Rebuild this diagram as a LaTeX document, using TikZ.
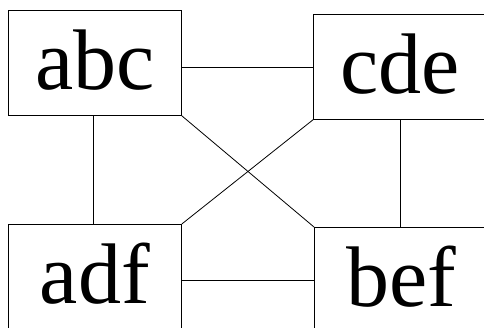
\documentclass[tikz,border=0pt]{standalone}
\usepackage{fontspec}
\setmainfont{Liberation Serif}
\usepackage{tikz}

\begin{document}
\begin{tikzpicture}[x=1pt,y=1pt,
    box/.style={draw,line width=0.8pt,anchor=north west,inner sep=0pt,
      minimum width=173pt,minimum height=105pt,
      text height=66pt,text depth=13pt,
      font=\fontsize{86pt}{90pt}\selectfont}]

  \clip (0,0) rectangle (484,-327);
  \useasboundingbox (0,0) rectangle (484,-327);

  \draw (8,-10) node[box] (abc) {abc};
\draw (313,-14) node[box] (cde) {cde};
\draw (8,-224) node[box] (adf) {adf};
\draw (314,-227) node[box] (bef) {bef};

  \draw[line width=0.8pt] (abc.east |- cde.west) -- (cde.west);
  \draw[line width=0.8pt] (adf.east |- bef.west) -- (bef.west);

  \draw[line width=0.8pt] ([xshift=-1.5pt]abc.south) -- ([xshift=-1.5pt]abc.south |- adf.north);
  \draw[line width=0.8pt] (cde.south) -- (cde.south |- bef.north);

  \draw[line width=0.8pt] (abc.south east) -- (bef.north west);
  \draw[line width=0.8pt] (cde.south west) -- (adf.north east);

\end{tikzpicture}
\end{document}
